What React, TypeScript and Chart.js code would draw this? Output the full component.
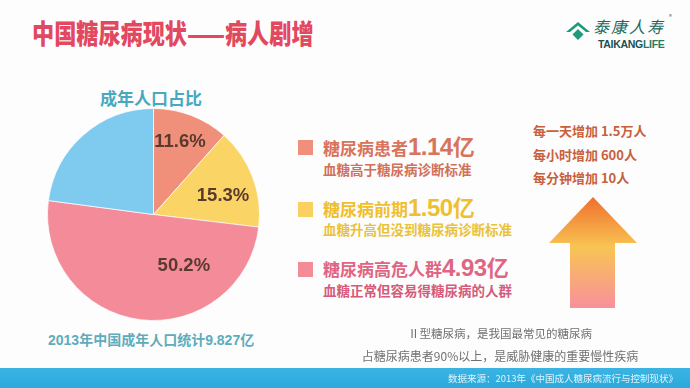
import React, { useEffect, useRef } from "react";
import { Chart, registerables } from "chart.js";

Chart.register(...registerables);

// ---- data ----
const categories = ["糖尿病患者", "糖尿病前期", "糖尿病高危人群", "其他"];
const shares = [11.6, 15.3, 50.2, 22.9];
const shareLabels = ["11.6%", "15.3%", "50.2%", ""];
const legendCounts = ["1.14亿", "1.50亿", "4.93亿"];
const legendNotes = ["血糖高于糖尿病诊断标准", "血糖升高但没到糖尿病诊断标准", "血糖正常但容易得糖尿病的人群"];
const growthLines = ["每一天增加 1.5万人", "每小时增加 600人", "每分钟增加 10人"];

// ---- styles ----
const sliceColors = ["#f0907a", "#fad566", "#f48b98", "#7ecbef"];
const legendSquareColors = ["#f0907a", "#fad060", "#f48c98"];
const legendTextColors = ["#d9735c", "#efbf2e", "#df6683"];
const legendNoteColors = ["#d27058", "#e9c23a", "#d65a7a"];
// placement of the percentage texts inside slices: fraction of slice angle, fraction of radius
const labelAngleFrac = [0.48, 0.6, 0.29, 0.5];
const labelRadiusFrac = [0.73, 0.68, 0.56, 0.6];

const CJK = '"Noto Sans CJK SC", "Noto Sans", sans-serif';
const LATIN = '"Liberation Sans", "Noto Sans CJK SC", sans-serif';

const sliceLabelPlugin = {
  id: "sliceLabels",
  afterDatasetsDraw(chart: any) {
    const ctx = chart.ctx;
    const meta = chart.getDatasetMeta(0);
    ctx.save();
    ctx.font = 'bold 18.5px ' + LATIN;
    ctx.fillStyle = "#5a3a2e";
    ctx.textAlign = "center";
    ctx.textBaseline = "middle";
    meta.data.forEach((arc: any, i: number) => {
      const text = shareLabels[i];
      if (!text) return;
      const p = arc.getProps(["x", "y", "startAngle", "endAngle", "outerRadius"], true);
      const a = p.startAngle + (p.endAngle - p.startAngle) * labelAngleFrac[i];
      const r = p.outerRadius * labelRadiusFrac[i];
      ctx.fillText(text, p.x + Math.cos(a) * r, p.y + Math.sin(a) * r);
    });
    ctx.restore();
  },
};

function PieChart() {
  const ref = useRef<HTMLCanvasElement | null>(null);
  useEffect(() => {
    if (!ref.current) return;
    const chart = new Chart(ref.current, {
      type: "pie",
      data: {
        labels: categories,
        datasets: [
          {
            data: shares,
            backgroundColor: sliceColors,
            borderColor: "rgba(255,255,255,0.7)",
            borderWidth: 1,
          },
        ],
      },
      options: {
        animation: false,
        responsive: true,
        maintainAspectRatio: false,
        layout: { padding: 0 },
        plugins: { legend: { display: false }, tooltip: { enabled: false } },
      },
      plugins: [sliceLabelPlugin],
    });
    return () => chart.destroy();
  }, []);
  return (
    <div style={{ position: "absolute", left: 47, top: 108, width: 213, height: 213 }}>
      <canvas ref={ref} />
    </div>
  );
}

const abs = (o: React.CSSProperties): React.CSSProperties => ({ position: "absolute", whiteSpace: "nowrap", ...o });

export default function App() {
  const legendTops = [134, 195, 255];
  const noteTops = [160, 220, 281];
  const squareTops = [140, 202, 262];
  return (
    <div style={{ position: "absolute", left: 0, top: 0, width: 690, height: 388, background: "#fdfdfd", overflow: "hidden", fontFamily: CJK }}>
      {/* title */}
      <div
        style={abs({
          left: 32,
          top: 14,
          fontSize: 27,
          fontWeight: 900,
          color: "#e2485f",
          lineHeight: "38px",
          transform: "scaleX(0.82)",
          transformOrigin: "left center",
        })}
      >
        中国糖尿病现状——病人剧增
      </div>

      {/* logo */}
      <svg style={{ position: "absolute", left: 566, top: 22 }} width={24} height={18} viewBox="0 0 24 18">
        <polygon points="12,0 24,10 20,10 12,3.5 4,10 0,10" fill="#1f9a7c" />
        <polygon points="12,7 17.5,12.5 12,18 6.5,12.5" fill="#1f9a7c" />
      </svg>
      <div style={abs({ left: 593, top: 17, fontSize: 16, fontFamily: '"Noto Sans CJK SC", serif', fontStyle: "italic", color: "#1e6a5c", lineHeight: "18px", letterSpacing: 2 })}>
        泰康人寿
      </div>
      <div style={abs({ left: 669, top: 13, fontSize: 6, color: "#555", lineHeight: "7px" })}>®</div>
      <div style={abs({ left: 598, top: 39, fontSize: 10.5, fontWeight: 900, fontFamily: LATIN, color: "#1b4f52", lineHeight: "11px", letterSpacing: -0.3 })}>
        TAIKANG<span style={{ color: "#2a7a60" }}>LIFE</span>
      </div>

      {/* pie header and caption */}
      <div style={abs({ left: 100, top: 87, fontSize: 17, fontWeight: 700, color: "#48a8c0", lineHeight: "22px" })}>成年人口占比</div>
      <PieChart />
      <div style={abs({ left: 48, top: 329, fontSize: 14, fontWeight: 700, color: "#5eacbc", lineHeight: "20px" })}>
        <span style={{ fontFamily: LATIN }}>2013</span>年中国成年人口统计<span style={{ fontFamily: LATIN }}>9.827</span>亿
      </div>

      {/* legend */}
      {legendCounts.map((c, i) => (
        <React.Fragment key={i}>
          <div style={abs({ left: 298, top: squareTops[i], width: 15, height: 15, background: legendSquareColors[i] })} />
          <div style={abs({ left: 323, top: legendTops[i], color: legendTextColors[i], fontWeight: 700, lineHeight: "22px", height: 22 })}>
            <span style={{ fontSize: 17 }}>{categories[i]}</span>
            <span style={{ fontSize: 24, fontFamily: LATIN, letterSpacing: -0.5 }}>{c.slice(0, -1)}</span>
            <span style={{ fontSize: 22 }}>{c.slice(-1)}</span>
          </div>
          <div style={abs({ left: 323, top: noteTops[i], color: legendNoteColors[i], fontWeight: 700, fontSize: 13.5, lineHeight: "18px" })}>
            {legendNotes[i]}
          </div>
        </React.Fragment>
      ))}

      {/* growth text */}
      {growthLines.map((t, i) => (
        <div key={i} style={abs({ left: 533, top: 122 + i * 23.5, fontSize: 13, fontWeight: 700, color: "#c8603c", lineHeight: "18px" })}>
          {t}
        </div>
      ))}

      {/* arrow */}
      <svg style={{ position: "absolute", left: 0, top: 0 }} width={690} height={388}>
        <defs>
          <linearGradient id="arrowGrad" x1="0" y1="197" x2="0" y2="308" gradientUnits="userSpaceOnUse">
            <stop offset="0" stopColor="#f06e2e" />
            <stop offset="0.45" stopColor="#f8c453" />
            <stop offset="1" stopColor="#f8909c" />
          </linearGradient>
        </defs>
        <polygon points="593,197 637,243 615,243 615,308 570,308 570,243 549,243" fill="url(#arrowGrad)" />
      </svg>

      {/* note */}
      <div style={abs({ left: 300, width: 400, top: 324, textAlign: "center", fontSize: 11.5, color: "#707070", lineHeight: "18px" })}>
        Ⅱ型糖尿病，是我国最常见的糖尿病
      </div>
      <div style={abs({ left: 300, width: 400, top: 347, textAlign: "center", fontSize: 12, color: "#707070", lineHeight: "18px" })}>
        占糖尿病患者90%以上，是威胁健康的重要慢性疾病
      </div>

      {/* footer band */}
      <div style={abs({ left: 0, top: 368, width: 690, height: 20, background: "linear-gradient(#3bb4e4, #2aa9dc)" })} />
      <div style={abs({ right: 12, top: 370, fontSize: 9.5, color: "#dff3fb", lineHeight: "16px" })}>
        数据来源：2013年《中国成人糖尿病流行与控制现状》
      </div>
    </div>
  );
}
